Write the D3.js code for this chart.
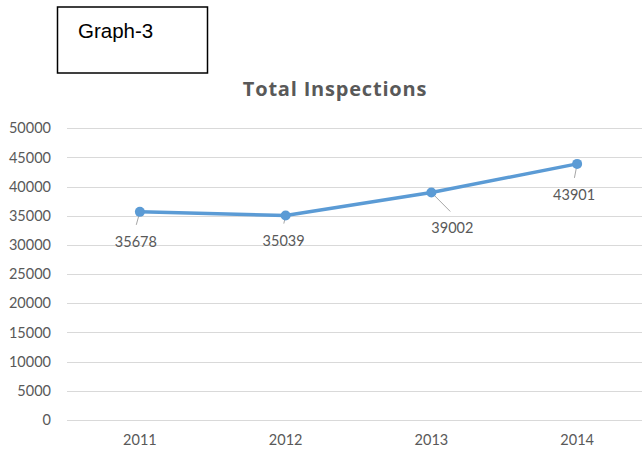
<!DOCTYPE html>
<html lang="en">
<head>
    <meta charset="UTF-8">
    <title>Total Inspections</title>
    <style>
        body { margin: 0; background: #fff; }
    </style>
    <script src="https://d3js.org/d3.v7.min.js"></script>
</head>
<body>
    <script>
        // chart data
        const years = ["2011", "2012", "2013", "2014"];
        const inspections = [35678, 35039, 39002, 43901];
        const yTicks = [0, 5000, 10000, 15000, 20000, 25000, 30000, 35000, 40000, 45000, 50000];

        const WIDTH = 642;
        const HEIGHT = 450;
        const FONT = "Lato, 'Open Sans', sans-serif";
        const TEXT_COLOR = "#595959";
        const LINE_COLOR = "#5B9BD5";

        // label placement (Excel labels were dragged by hand), px from the point
        const labelOffsets = [[-4, 30], [-2, 25], [21, 36], [-3, 31]];

        const svg = d3.select("body").append("svg")
            .attr("width", WIDTH)
            .attr("height", HEIGHT);

        // the "Graph-3" box
        svg.append("rect")
            .attr("x", 57.5)
            .attr("y", 7)
            .attr("width", 150)
            .attr("height", 66)
            .attr("fill", "none")
            .attr("stroke", "black")
            .attr("stroke-width", 1.5);
        svg.append("text")
            .attr("x", 78)
            .attr("y", 38)
            .attr("font-family", "'Liberation Sans', Arial, sans-serif")
            .attr("font-size", "20.5px")
            .attr("fill", "black")
            .text("Graph-3");

        svg.append("text")
            .attr("x", 335)
            .attr("y", 96)
            .attr("text-anchor", "middle")
            .attr("font-family", "'Open Sans', Lato, sans-serif")
            .attr("font-weight", "bold")
            .attr("font-size", "20px")
            .attr("letter-spacing", "0.8px")
            .attr("fill", TEXT_COLOR)
            .text("Total Inspections");

        const x = d3.scaleBand()
            .domain(years)
            .range([67, 650]);

        const y = d3.scaleLinear()
            .domain([0, 50000])
            .range([420, 128.3]);

        // gridlines
        svg.append("g")
            .selectAll("line")
            .data(yTicks)
            .enter()
            .append("line")
            .attr("x1", 67)
            .attr("x2", WIDTH)
            .attr("y1", d => Math.round(y(d)) + 0.5)
            .attr("y2", d => Math.round(y(d)) + 0.5)
            .attr("stroke", "#d9d9d9")
            .attr("stroke-width", 1);

        // y axis labels
        const yAxis = svg.append("g")
            .attr("transform", "translate(51,0)")
            .call(d3.axisLeft(y).tickValues(yTicks).tickSize(0).tickPadding(0).tickFormat(d3.format("d")));
        yAxis.select(".domain").remove();
        yAxis.selectAll("text")
            .attr("font-family", FONT)
            .attr("font-size", "14.5px")
            .attr("fill", TEXT_COLOR);

        // x axis labels
        const xAxis = svg.append("g")
            .attr("transform", "translate(0,420)")
            .call(d3.axisBottom(x).tickSize(0).tickPadding(15));
        xAxis.select(".domain").remove();
        xAxis.selectAll("text")
            .attr("font-family", FONT)
            .attr("font-size", "14.5px")
            .attr("fill", TEXT_COLOR);

        const points = years.map((yr, i) => ({
            cx: x(yr) + x.bandwidth() / 2,
            cy: y(inspections[i]),
            value: inspections[i],
            off: labelOffsets[i]
        }));

        svg.append("path")
            .datum(points)
            .attr("fill", "none")
            .attr("stroke", LINE_COLOR)
            .attr("stroke-width", 3.5)
            .attr("stroke-linejoin", "round")
            .attr("d", d3.line().x(d => d.cx).y(d => d.cy));

        // leader lines
        svg.selectAll("line.leader")
            .data(points)
            .enter()
            .append("line")
            .attr("class", "leader")
            .attr("x1", d => d.cx)
            .attr("y1", d => d.cy)
            .attr("x2", d => d.cx + d.off[0] * 0.9)
            .attr("y2", d => d.cy + d.off[1] - 17)
            .attr("stroke", "#a6a6a6")
            .attr("stroke-width", 1);

        svg.selectAll("circle")
            .data(points)
            .enter()
            .append("circle")
            .attr("cx", d => d.cx)
            .attr("cy", d => d.cy)
            .attr("r", 5)
            .attr("fill", LINE_COLOR);

        svg.selectAll("text.value")
            .data(points)
            .enter()
            .append("text")
            .attr("class", "value")
            .attr("x", d => d.cx + d.off[0])
            .attr("y", d => d.cy + d.off[1] + 5)
            .attr("text-anchor", "middle")
            .attr("font-family", FONT)
            .attr("font-size", "14.5px")
            .attr("fill", TEXT_COLOR)
            .text(d => d.value);
    </script>
</body>
</html>
